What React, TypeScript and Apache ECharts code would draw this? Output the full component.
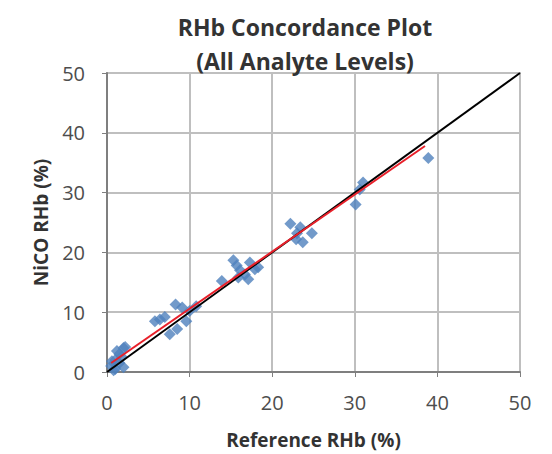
import React, { useEffect, useRef } from "react";
import * as echarts from "echarts";

const referenceRHb = [
  0.5, 1.0, 1.5, 2.0, 1.0, 1.5, 2.0, 1.2, 2.2, 0.8, 1.8, 0.6,
  5.8, 7.0, 7.6, 8.3, 9.1, 8.5, 9.6, 10.0, 10.8, 6.4,
  13.9, 15.3, 15.7, 16.1, 16.7, 17.3, 17.9, 18.3, 15.9, 17.1,
  22.2, 23.4, 22.9, 23.7, 24.8, 23.0,
  30.1, 31.0, 30.6, 38.9,
];
const nicoRHb = [
  1.0, 2.0, 3.0, 4.0, 0.5, 1.5, 0.8, 3.5, 4.2, 0.3, 2.5, 1.8,
  8.5, 9.2, 6.3, 11.3, 10.8, 7.2, 8.5, 10.2, 11.0, 8.8,
  15.2, 18.7, 17.8, 17.0, 16.3, 18.3, 17.2, 17.5, 15.8, 15.5,
  24.8, 24.2, 22.2, 21.7, 23.2, 23.2,
  28.0, 31.7, 30.5, 35.8,
];
const identityLine = [[0, 0], [50, 50]];
const regressionLine = [[0.5, 1.5], [38.5, 37.8]];
const tickValues = [0, 10, 20, 30, 40, 50];

export default function App() {
  const ref = useRef<HTMLDivElement>(null);
  useEffect(() => {
    document.body.style.margin = "0";
    if (!ref.current) return;
    const chart = echarts.init(ref.current, null, { renderer: "svg" });
    const font = "'Open Sans', 'Noto Sans', sans-serif";
    const axisCommon = {
      type: "value",
      min: tickValues[0],
      max: tickValues[tickValues.length - 1],
      interval: 10,
      axisLine: { show: true, lineStyle: { color: "#7f7f7f", width: 2 } },
      axisTick: { show: true, length: 5, lineStyle: { color: "#7f7f7f" } },
      splitLine: { show: true, lineStyle: { color: "#bfbfbf", width: 2 } },
      axisLabel: { color: "#4d4d4d", fontSize: 20, fontFamily: font },
      nameTextStyle: { color: "#333333", fontSize: 19, fontWeight: "bold", fontFamily: font },
      nameLocation: "middle",
    };
    chart.setOption({
      animation: false,
      backgroundColor: "#ffffff",
      title: {
        text: "RHb Concordance Plot\n(All Analyte Levels)",
        left: 300,
        top: 5,
        textAlign: "center",
        textStyle: { fontSize: 23, fontWeight: "bold", color: "#333333", fontFamily: font, lineHeight: 34 },
      },
      grid: { left: 107, right: 32, top: 73, bottom: 81, show: true, borderColor: "#bfbfbf", borderWidth: 2 },
      xAxis: { ...axisCommon, name: "Reference RHb (%)", nameGap: 58, axisLabel: { ...axisCommon.axisLabel, margin: 20 } },
      yAxis: { ...axisCommon, name: "NiCO RHb (%)", nameGap: 57, axisLabel: { ...axisCommon.axisLabel, margin: 22 } },
      series: [
        {
          type: "scatter",
          symbol: "diamond",
          symbolSize: 12,
          itemStyle: { color: "#4f81bd" },
          data: referenceRHb.map((x, i) => [x, nicoRHb[i]]),
          z: 2,
        },
        {
          type: "line",
          data: identityLine,
          symbol: "none",
          lineStyle: { color: "#000000", width: 2 },
          z: 3,
        },
        {
          type: "line",
          data: regressionLine,
          symbol: "none",
          lineStyle: { color: "#e8202a", width: 2 },
          z: 4,
        },
      ],
    });
    return () => chart.dispose();
  }, []);
  return <div ref={ref} style={{ width: 552, height: 454 }} />;
}
